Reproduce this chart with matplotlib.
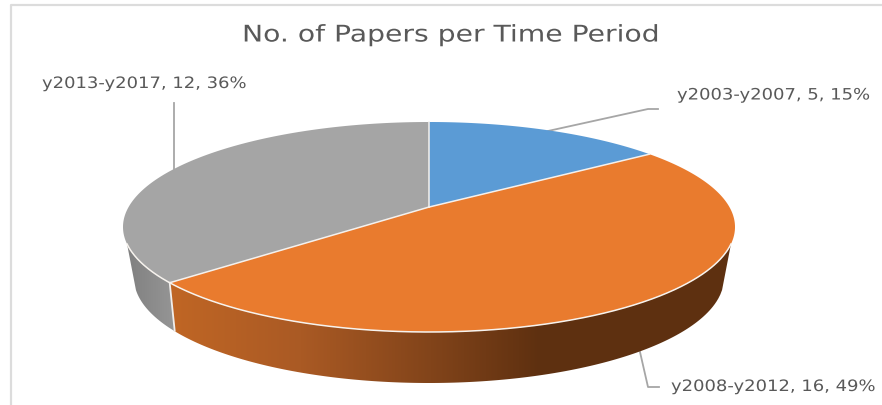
import numpy as np
import matplotlib
matplotlib.use("Agg")
import matplotlib.pyplot as plt
from matplotlib.patches import Polygon
from matplotlib.patheffects import AbstractPathEffect
from matplotlib.transforms import Affine2D

title = "No. of Papers per Time Period"
periods = ["y2003-y2007", "y2008-y2012", "y2013-y2017"]
papers = [5, 16, 12]
percents = [15, 49, 36]
top_colors = ["#5b9bd5", "#e97b2e", "#a5a5a5"]

# wall shading, left to right (x pixel, rgb)
orange_x = [170, 300, 430, 540, 740]
orange_r = [192, 170, 130, 94, 94]
orange_g = [102, 90, 68, 48, 48]
orange_b = [36, 36, 26, 16, 16]
grey_x = [120, 175]
grey_v = [125, 150]

W, H = 882, 406
cx, cy, rx, ry = 429, 228, 306, 105   # top ellipse
bx, by, brx, bry = 429, 279, 295, 105  # bottom ellipse
t = 0.19  # perspective shift of the pie centre


class StretchX(AbstractPathEffect):
    # the reference text is stretched sideways
    def __init__(self, sx):
        self.sx = sx

    def draw_path(self, renderer, gc, tpath, affine, rgbFace=None):
        renderer.draw_path(gc, tpath, Affine2D().scale(self.sx, 1) + affine, rgbFace)


def top_point(frac):
    # position on the tilted pie for a fraction of the circle, clockwise from 12
    a = 2 * np.pi * np.asarray(frac)
    x, y = np.sin(a), np.cos(a)
    d = 1 + t * y
    return cx + rx * x * np.sqrt(1 - t * t) / d, cy - ry * (y + t) / d


def wall_polygon(x0, x1, x2, x3):
    # front band: top ellipse over x0..x1, bottom ellipse back over x3..x2
    xs = np.linspace(x0, x1, 300)
    yt = cy + ry * np.sqrt(np.clip(1 - ((xs - cx) / rx) ** 2, 0, 1))
    xb = np.linspace(x3, x2, 300)
    yb = by + bry * np.sqrt(np.clip(1 - ((xb - bx) / brx) ** 2, 0, 1))
    return np.vstack([np.c_[xs, yt], np.c_[xb, yb]])


def shade(px, vals):
    return np.interp(np.arange(W), px, vals) / 255


total = sum(papers)
edges = np.cumsum([0] + papers) / total
apex = (cx, cy - ry * t)

fig = plt.figure(figsize=(W / 100, H / 100), dpi=100)
ax = fig.add_axes([0, 0, 1, 1])
ax.axis("off")

# only the top and left of the chart frame are in the crop
ax.plot([W, 10.5, 10.5], [5.5, 5.5, H], color="#dcdcdc", lw=1.6, zorder=1)

split_x, split_y = top_point(edges[2])
wall_right = cx + rx * np.sqrt(1 - (17 / ry) ** 2)
wall_left = 2 * cx - wall_right
bottom_right = bx + brx * np.sqrt(1 - (12 / bry) ** 2)
bottom_left = 2 * bx - bottom_right

grad = np.dstack([shade(orange_x, orange_r), shade(orange_x, orange_g), shade(orange_x, orange_b)])
im = ax.imshow(grad, extent=[0, W, H, 0], aspect="auto", zorder=2)
im.set_clip_path(Polygon(wall_polygon(split_x, wall_right, split_x + 5, bottom_right),
                         transform=ax.transData))

g = shade(grey_x, grey_v)
im2 = ax.imshow(np.dstack([g, g, g]), extent=[0, W, H, 0], aspect="auto", zorder=2)
im2.set_clip_path(Polygon(wall_polygon(wall_left, split_x, bottom_left, split_x + 5),
                          transform=ax.transData))
ax.set_xlim(0, W)
ax.set_ylim(H, 0)

for i in range(3):
    xs, ys = top_point(np.linspace(edges[i], edges[i + 1], 200))
    pts = np.vstack([[apex], np.c_[xs, ys]])
    ax.add_patch(Polygon(pts, closed=True, fc=top_colors[i], ec="none", zorder=3))

# white separators
for f in edges[:3]:
    x, y = top_point(f)
    ax.plot([apex[0], x], [apex[1], y], color="#f4f1ee", lw=1.1, zorder=4)
ax.plot([split_x, split_x + 5], [split_y, split_y + 48], color="#f0eeec", lw=1.3, zorder=4)
xs = np.linspace(wall_left, wall_right, 400)
ax.plot(xs, cy + ry * np.sqrt(1 - ((xs - cx) / rx) ** 2), color="#f7f3ee", lw=1.1, zorder=4)

# leader lines
ax.plot([548, 648, 658], [132, 110, 110], color="#a6a6a6", lw=1.3, zorder=1)
ax.plot([174, 174], [104, 170], color="#a6a6a6", lw=1.3, zorder=1)
ax.plot([640, 648, 659], [353, 388, 388], color="#a6a6a6", lw=1.3, zorder=1)

txt = "#595959"
ax.text(242, 42.5, title, ha="left", va="baseline", fontsize=16.5, color=txt,
        family="DejaVu Sans", path_effects=[StretchX(1.232)])
labels = [f"{p}, {n}, {q}%" for p, n, q in zip(periods, papers, percents)]
for s, x, y in zip(labels, [677, 671, 42], [100.5, 392, 89]):
    ax.text(x, y, s, ha="left", va="baseline", fontsize=11.3, color=txt,
            family="DejaVu Sans", path_effects=[StretchX(1.145)])

fig.savefig("out.png", dpi=100)
